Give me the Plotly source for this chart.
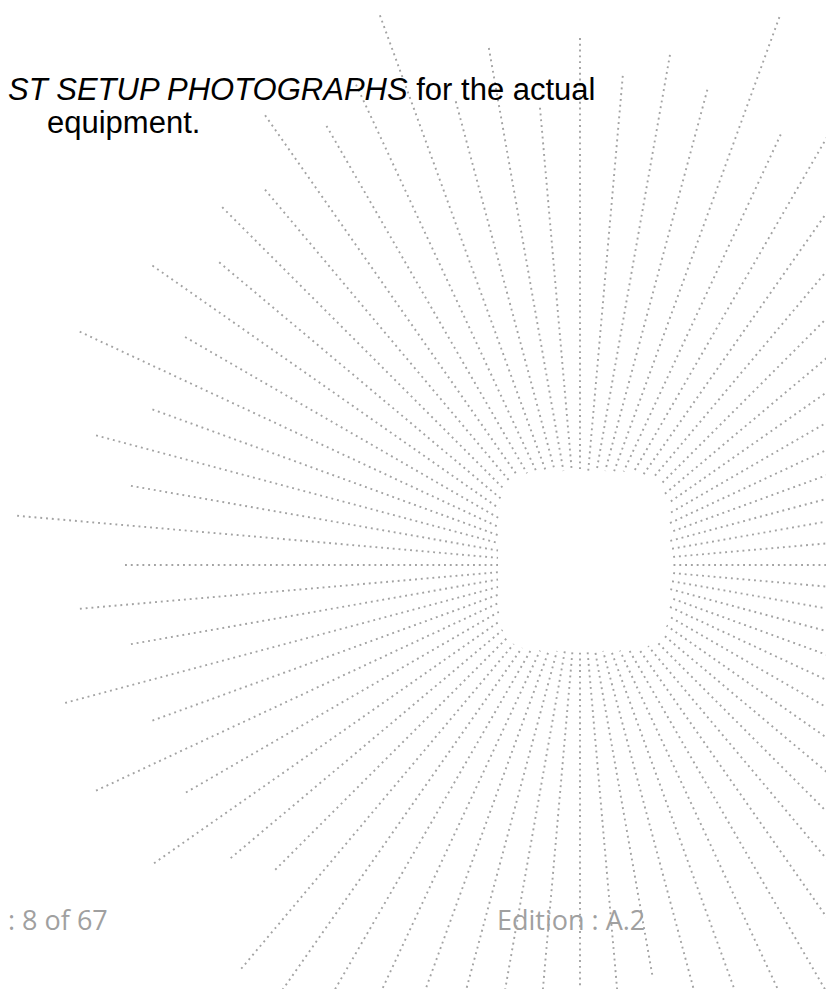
import numpy as np
import plotly.graph_objects as go

# ---------------- data ----------------
# ray directions (degrees, counter-clockwise from the right-hand horizontal)
ray_angles = [0, 5, 10, 15, 20, 25, 30, 35, 40, 45, 50, 55,
              60, 65, 70, 75, 80, 85, 90, 95, 100, 105, 110, 115,
              120, 125, 130, 135, 140, 145, 150, 155, 160, 165, 170, 175,
              180, 185, 190, 195, 200, 205, 210, 215, 220, 225, 230, 235,
              240, 245, 250, 255, 260, 265, 270, 275, 280, 285, 290, 295,
              300, 305, 310, 315, 320, 325, 330, 335, 340, 345, 350, 355]
# ray outer radius (px from the centre); 600 = runs off the page
ray_lengths = [600, 600, 600, 600, 600, 600, 600, 600, 600, 600, 600, 600,
               506, 475, 583, 492, 518, 491, 527, 459, 525, 480, 585, 530,
               507, 549, 490, 506, 471, 522, 456, 552, 455, 501, 456, 565,
               455, 502, 456, 533, 455, 534, 455, 520, 456, 431, 527, 600,
               600, 600, 600, 600, 600, 600, 600, 600, 416, 600, 600, 600,
               600, 600, 600, 600, 600, 600, 600, 600, 600, 600, 600, 600]

body_line1 = "<i>ST SETUP PHOTOGRAPHS</i> for the actual"
body_line2 = "equipment."
footer_left = ": 8 of 67"
footer_right = "Edition : A.2"

# ---------------- layout constants ----------------
W, H = 834, 989
CX, CY = 572, 557
IN_LEFT, IN_RIGHT, IN_TOP, IN_BOTTOM = 82, 90, 94, 86
SQ_N = 5.0

xs, ys = [], []
for a, L in zip(ray_angles, ray_lengths):
    t = np.radians(a)
    dx, dy = np.cos(t), -np.sin(t)
    ax = IN_RIGHT if dx >= 0 else IN_LEFT
    by = IN_BOTTOM if dy >= 0 else IN_TOP
    r0 = (abs(dx / ax) ** SQ_N + abs(dy / by) ** SQ_N) ** (-1.0 / SQ_N)
    xs += [CX + L * dx, CX + r0 * dx, None]
    ys += [CY + L * dy, CY + r0 * dy, None]

fig = go.Figure()
fig.add_trace(go.Scatter(
    x=xs, y=ys, mode="lines",
    line=dict(color="#a3a3a3", width=1.9, dash="1.9px,3.9px"),
    hoverinfo="skip", showlegend=False))

body_font = dict(family="Liberation Sans, Arial, sans-serif", size=31, color="#000000")
foot_font = dict(family="Open Sans, Noto Sans, sans-serif", size=27, color="#a0a0a0")


def px(v):
    return v / W


def py(v):
    return 1 - v / H


common = dict(xref="paper", yref="paper", showarrow=False, yanchor="middle",
              borderpad=0, borderwidth=0)
fig.add_annotation(x=px(0), y=py(81), text=body_line1, xanchor="left",
                   font=body_font, **common)
fig.add_annotation(x=px(39), y=py(114), text=body_line2, xanchor="left",
                   font=body_font, **common)
fig.add_annotation(x=px(0), y=py(911), text=footer_left, xanchor="left",
                   font=foot_font, **common)
fig.add_annotation(x=px(489), y=py(911), text=footer_right, xanchor="left",
                   font=foot_font, **common)

fig.update_xaxes(range=[0, W], visible=False, fixedrange=True)
fig.update_yaxes(range=[H, 0], visible=False, fixedrange=True)
fig.update_layout(width=W, height=H, margin=dict(l=0, r=0, t=0, b=0),
                  plot_bgcolor="white", paper_bgcolor="white")

fig.write_html("out.html", config={"displayModeBar": False})
